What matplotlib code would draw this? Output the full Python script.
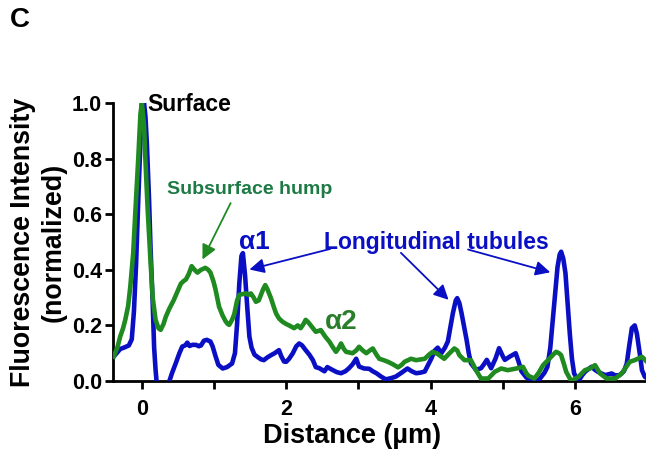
import matplotlib
matplotlib.use("Agg")
import matplotlib.pyplot as plt
from matplotlib.ticker import FixedLocator

# ---------------- data ----------------
blue_x = [-0.39, -0.30, -0.23, -0.18, -0.14, -0.11, -0.08, -0.05, -0.02, 0.01, 0.03, 0.05, 0.07, 0.10, 0.12,
          0.15, 0.17, 0.19, 0.21, 0.30, 0.375, 0.42, 0.47, 0.52, 0.56, 0.60, 0.63, 0.66, 0.70, 0.75, 0.79,
          0.82, 0.86, 0.90, 0.95, 0.98, 1.02, 1.06, 1.12, 1.18, 1.25, 1.29, 1.32, 1.35, 1.38, 1.40, 1.43,
          1.46, 1.49, 1.52, 1.56, 1.60, 1.65, 1.69, 1.74, 1.79, 1.84, 1.90, 1.93, 1.97, 2.00, 2.04, 2.09,
          2.14, 2.18, 2.22, 2.27, 2.32, 2.37, 2.41, 2.46, 2.53, 2.57, 2.64, 2.70, 2.76, 2.82, 2.87, 2.92,
          2.97, 3.01, 3.08, 3.15, 3.20, 3.25, 3.32, 3.38, 3.45, 3.52, 3.60, 3.68, 3.74, 3.80, 3.86, 3.92,
          3.97, 4.01, 4.06, 4.10, 4.15, 4.20, 4.24, 4.28, 4.31, 4.35, 4.37, 4.40, 4.43, 4.47, 4.50, 4.53,
          4.56, 4.63, 4.70, 4.74, 4.78, 4.84, 4.90, 4.95, 5.00, 5.03, 5.10, 5.18, 5.22, 5.26, 5.33, 5.40,
          5.50, 5.58, 5.62, 5.66, 5.69, 5.73, 5.76, 5.79, 5.81, 5.84, 5.87, 5.90, 5.93, 5.96, 5.99, 6.05,
          6.10, 6.14, 6.23, 6.28, 6.32, 6.42, 6.51, 6.56, 6.62, 6.68, 6.72, 6.75, 6.79, 6.83, 6.86, 6.88,
          6.91, 6.93, 6.97, 7.00]
blue_y = [0.088, 0.115, 0.122, 0.128, 0.15, 0.25, 0.42, 0.65, 0.86, 0.98, 1.0, 0.95, 0.85, 0.65, 0.48,
          0.28, 0.12, 0.04, -0.02, -0.05, -0.005, 0.03, 0.064, 0.10, 0.124, 0.128, 0.138, 0.126, 0.13, 0.13, 0.125,
          0.128, 0.145, 0.148, 0.142, 0.125, 0.09, 0.058, 0.045, 0.05, 0.063, 0.10, 0.207, 0.35, 0.45, 0.46, 0.38,
          0.267, 0.16, 0.12, 0.095, 0.087, 0.078, 0.075, 0.085, 0.093, 0.10, 0.111, 0.09, 0.07, 0.069, 0.08, 0.099,
          0.125, 0.135, 0.128, 0.111, 0.095, 0.075, 0.05, 0.046, 0.035, 0.05, 0.04, 0.032, 0.028, 0.035, 0.046, 0.06,
          0.08, 0.052, 0.045, 0.044, 0.035, 0.028, 0.015, 0.006, 0.01, 0.016, 0.03, 0.045, 0.035, 0.028, 0.03, 0.034,
          0.06, 0.08, 0.11, 0.12, 0.10, 0.12, 0.142, 0.20, 0.244, 0.29, 0.298, 0.28, 0.244, 0.19, 0.148, 0.10,
          0.064, 0.04, 0.046, 0.06, 0.076, 0.046, 0.08, 0.118, 0.09, 0.076, 0.088, 0.10, 0.07, 0.035, 0.012, 0.005,
          0.003, 0.03, 0.051, 0.12, 0.207, 0.32, 0.41, 0.455, 0.465, 0.44, 0.388, 0.28, 0.171, 0.08, 0.027, 0.0,
          0.02, 0.033, 0.051, 0.04, 0.033, 0.021, 0.027, 0.02, 0.021, 0.035, 0.063, 0.12, 0.19, 0.20, 0.17, 0.135,
          0.08, 0.039, 0.015, 0.01]

green_x = [-0.39, -0.34, -0.30, -0.26, -0.23, -0.19, -0.16, -0.12, -0.09, -0.05, -0.02, 0.00, 0.03, 0.05, 0.08,
           0.12, 0.15, 0.19, 0.23, 0.26, 0.30, 0.33, 0.38, 0.44, 0.49, 0.54, 0.58, 0.61, 0.65, 0.69, 0.73,
           0.77, 0.82, 0.88, 0.92, 0.95, 0.99, 1.02, 1.07, 1.12, 1.16, 1.19, 1.21, 1.25, 1.28, 1.32, 1.35,
           1.44, 1.48, 1.51, 1.55, 1.58, 1.62, 1.65, 1.68, 1.71, 1.74, 1.79, 1.83, 1.86, 1.90, 1.95, 2.00,
           2.04, 2.11, 2.16, 2.20, 2.24, 2.27, 2.31, 2.34, 2.41, 2.48, 2.54, 2.60, 2.65, 2.69, 2.73, 2.76,
           2.80, 2.83, 2.92, 2.97, 3.01, 3.06, 3.11, 3.16, 3.20, 3.25, 3.29, 3.35, 3.41, 3.48, 3.55, 3.60,
           3.64, 3.73, 3.80, 3.92, 3.98, 4.03, 4.10, 4.19, 4.26, 4.33, 4.37, 4.40, 4.47, 4.56, 4.60, 4.63,
           4.70, 4.80, 4.89, 4.98, 5.07, 5.19, 5.28, 5.33, 5.36, 5.44, 5.50, 5.56, 5.65, 5.70, 5.74, 5.78,
           5.81, 5.85, 5.88, 5.95, 6.05, 6.14, 6.21, 6.28, 6.35, 6.44, 6.56, 6.65, 6.76, 6.83, 6.93, 7.00]
green_y = [0.088, 0.12, 0.16, 0.19, 0.22, 0.27, 0.34, 0.46, 0.61, 0.80, 0.96, 1.0, 0.92, 0.79, 0.62,
           0.43, 0.30, 0.22, 0.19, 0.184, 0.205, 0.23, 0.26, 0.29, 0.32, 0.35, 0.36, 0.365, 0.385, 0.413, 0.40,
           0.39, 0.40, 0.407, 0.40, 0.39, 0.36, 0.33, 0.267, 0.235, 0.215, 0.205, 0.202, 0.22, 0.24, 0.29, 0.31,
           0.315, 0.31, 0.315, 0.30, 0.285, 0.29, 0.31, 0.33, 0.345, 0.33, 0.297, 0.265, 0.243, 0.225, 0.213, 0.205,
           0.20, 0.19, 0.20, 0.19, 0.205, 0.22, 0.21, 0.20, 0.177, 0.183, 0.16, 0.141, 0.12, 0.105, 0.12, 0.135,
           0.115, 0.105, 0.10, 0.11, 0.123, 0.11, 0.10, 0.11, 0.117, 0.095, 0.08, 0.075, 0.069, 0.06, 0.049, 0.058,
           0.069, 0.08, 0.075, 0.08, 0.095, 0.105, 0.097, 0.08, 0.099, 0.117, 0.11, 0.093, 0.075, 0.075, 0.055, 0.039,
           0.009, 0.009, 0.033, 0.045, 0.039, 0.045, 0.051, 0.027, 0.018, 0.009, 0.03, 0.057, 0.081, 0.095, 0.105, 0.10,
           0.093, 0.06, 0.033, 0.0, 0.015, 0.039, 0.045, 0.057, 0.027, 0.009, 0.009, 0.027, 0.069, 0.075, 0.087, 0.069]

x_ticks_major = [0, 2, 4, 6]
x_ticks_minor = [1, 3, 5]
y_ticks = [0.0, 0.2, 0.4, 0.6, 0.8, 1.0]
y_tick_labels = ["0.0", "0.2", "0.4", "0.6", "0.8", "1.0"]

BLUE = "#0a0fc4"
GREEN = "#1f8a1f"
TEXT_GREEN = "#1d7a45"

plt.rcParams["font.family"] = ["Liberation Sans", "DejaVu Sans"]
plt.rcParams["font.weight"] = "bold"

W, H = 646, 462
fig = plt.figure(figsize=(W / 100, H / 100), dpi=100)
ax = fig.add_axes([113 / W, (H - 381) / H, (647 - 113) / W, (381 - 103) / H])

ax.plot(blue_x, blue_y, color=BLUE, lw=3.3, solid_joinstyle="round", zorder=3)
ax.plot(green_x, green_y, color=GREEN, lw=3.3, solid_joinstyle="round", zorder=4)

ax.set_xlim(-0.4, 7.0)
ax.set_ylim(0, 1.0)

for s in ["top", "right"]:
    ax.spines[s].set_visible(False)
for s in ["left", "bottom"]:
    ax.spines[s].set_linewidth(2.0)

ax.xaxis.set_major_locator(FixedLocator(x_ticks_major))
ax.xaxis.set_minor_locator(FixedLocator(x_ticks_minor))
ax.set_xticklabels([str(v) for v in x_ticks_major])
ax.set_yticks(y_ticks)
ax.set_yticklabels(y_tick_labels)
ax.tick_params(which="both", direction="out", length=5.5, width=2.0, labelsize=15.5)
ax.tick_params(axis="x", pad=7.5)
ax.tick_params(axis="y", pad=2.5)
for lbl in ax.get_xticklabels() + ax.get_yticklabels():
    lbl.set_fontweight("bold")

ax.set_xlabel("Distance (µm)", fontsize=19.5, fontweight="bold")
ax.xaxis.set_label_coords(0.447, -0.151)
ax.set_ylabel("Fluorescence Intensity\n(normalized)", fontsize=19.3, fontweight="bold", linespacing=1.25)
ax.yaxis.set_label_coords(-0.086, 0.5)

fig.text(10 / W, 1 - 20 / H, "C", fontsize=20, fontweight="bold", va="center", ha="left")

# annotations
ax.text(0.08, 0.996, "Surface", fontsize=16.5, fontweight="bold", color="black", va="center", ha="left",
        clip_on=False)
ax.text(0.35, 0.69, "Subsurface hump", fontsize=14, fontweight="bold", color=TEXT_GREEN, va="center",
        ha="left")
ax.text(1.35, 0.50, "α1", fontsize=19, fontweight="bold", color=BLUE, va="center", ha="left")
ax.text(2.53, 0.50, "Longitudinal tubules", fontsize=16.5, fontweight="bold", color=BLUE, va="center",
        ha="left")
ax.text(2.53, 0.213, "α2", fontsize=20, fontweight="bold", color="#2a7d2a", va="center", ha="left")

arrow_kw = dict(arrowstyle="-|>", mutation_scale=22, shrinkA=0, shrinkB=0, lw=1.3)
ax.annotate("", xy=(0.84, 0.437), xytext=(1.23, 0.64),
            arrowprops=dict(color=GREEN, **arrow_kw))
ax.annotate("", xy=(1.49, 0.401), xytext=(2.61, 0.475),
            arrowprops=dict(color=BLUE, **arrow_kw))
ax.annotate("", xy=(4.25, 0.292), xytext=(3.59, 0.461),
            arrowprops=dict(color=BLUE, **arrow_kw))
ax.annotate("", xy=(5.66, 0.391), xytext=(4.52, 0.473),
            arrowprops=dict(color=BLUE, **arrow_kw))

fig.savefig("out.png", dpi=100)
